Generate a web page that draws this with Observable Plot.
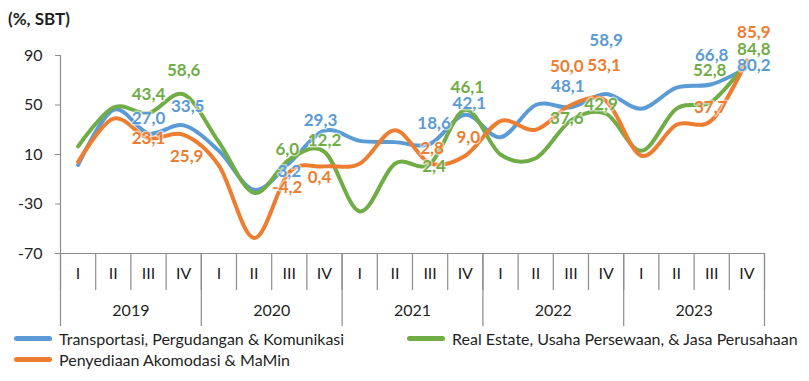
<!DOCTYPE html>
<html><head><meta charset="utf-8">
<script src="https://cdn.jsdelivr.net/npm/d3@7"></script>
<script src="https://cdn.jsdelivr.net/npm/@observablehq/plot@0.6"></script>
<style>
body{margin:0;background:#fff;font-family:Lato,"Open Sans",sans-serif;color:#1f1f1f;}
#wrap{position:relative;width:809px;height:381px;overflow:hidden;}
#title{position:absolute;left:8px;top:8px;font-size:17px;font-weight:bold;}
#chart{position:absolute;left:0;top:30px;}
.item{position:absolute;display:flex;align-items:center;font-size:16px;white-space:nowrap;}
.sw{width:38px;height:5px;border-radius:3px;margin-right:7px;}
</style></head>
<body>
<div id="wrap">
  <div id="title">(%, SBT)</div>
  <div id="chart"></div>
  <div id="legend"></div>
</div>
<script>
const quarters = ["I","II","III","IV","I","II","III","IV","I","II","III","IV","I","II","III","IV","I","II","III","IV"];
const years = ["2019","2020","2021","2022","2023"];
const yTicks = [-70, -30, 10, 50, 90];
const seriesNames = ["Transportasi, Pergudangan & Komunikasi", "Real Estate, Usaha Persewaan, & Jasa Perusahaan", "Penyediaan Akomodasi & MaMin"];
const transport  = [1.5, 46, 27.0, 33.5, 13, -18.5, 3.2, 29.3, 21, 20, 18.6, 42.1, 24, 50, 48.1, 58.9, 47, 64, 66.8, 80.2];
const realEstate = [16.5, 48, 43.4, 58.6, 20, -21, 6.0, 12.2, -36, 2.5, 2.4, 46.1, 10, 7, 37.6, 42.9, 13, 47, 52.8, 84.8];
const akomodasi  = [4, 39, 23.1, 25.9, 1, -57.5, -4.2, 0.4, 2.5, 29.5, 2.8, 9.0, 37, 30, 50.0, 53.1, 9, 34, 37.7, 85.9];
const labelIdx = [2, 3, 6, 7, 10, 11, 14, 15, 18, 19];

// styling (not data)
const colors = ["#5B9BD5", "#70AD47", "#ED7D31"];
const labelOffsets = [
  [[0,-15],[4,-19],[0,9],[-4,-10],[4,-20],[4,-11],[-3,-21],[0,-53],[0,-29],[7,-2]],
  [[0,-19],[0,-24],[-2,-10],[0,-11],[4,3],[2,-22],[-4,-2],[-5,-9],[-2,-31],[7,-12]],
  [[0,0],[3,22],[-2,15],[-5,11],[2,-15],[3,-18],[-4,-38],[-2,-36],[-1,-13],[7,-28]]
];

const allSeries = [transport, realEstate, akomodasi];
const fmt = v => v.toFixed(1).replace(".", ",");
const axisColor = "#8c8c8c";

const marks = [];
// axes
marks.push(Plot.ruleY([-70], {stroke: axisColor, strokeWidth: 1.2}));
marks.push(Plot.ruleX([0], {stroke: axisColor, strokeWidth: 1.2}));
marks.push(Plot.axisY({ticks: yTicks, tickSize: 5, tickPadding: 13, stroke: axisColor, fill: "#1f1f1f", fontSize: 16, tickFormat: d => String(d)}));
marks.push(Plot.axisX({ticks: d3.range(0, 21), tickSize: 37, tickFormat: () => "", stroke: axisColor, strokeWidth: 1.2}));
marks.push(Plot.axisX({ticks: d3.range(0, 21, 4), tickSize: 73, tickFormat: () => "", stroke: axisColor, strokeWidth: 1.2}));
marks.push(Plot.text(quarters, {x: (d, i) => i + 0.5, text: d => d, frameAnchor: "bottom", dy: 25, fontSize: 16, fill: "#1f1f1f"}));
marks.push(Plot.text(years, {x: (d, i) => i * 4 + 2, text: d => d, frameAnchor: "bottom", dy: 62, fontSize: 16, fill: "#1f1f1f"}));

// lines
allSeries.forEach((vals, s) => {
  marks.push(Plot.line(vals, {x: (d, i) => i + 0.5, y: d => d, stroke: colors[s], strokeWidth: 4, curve: "cardinal", strokeLinecap: "round"}));
});
// labels
allSeries.forEach((vals, s) => {
  labelIdx.forEach((idx, k) => {
    const [dx, dy] = labelOffsets[s][k];
    marks.push(Plot.text([vals[idx]], {x: () => idx + 0.5, y: d => d, text: d => fmt(d), dx, dy,
      fill: colors[s], fontSize: 17, fontWeight: "bold", stroke: "white", strokeWidth: 3, strokeOpacity: 0.55}));
  });
});

const chart = Plot.plot({
  width: 809, height: 300,
  marginTop: 25, marginLeft: 60, marginRight: 45, marginBottom: 77,
  x: {type: "linear", domain: [0, 20], axis: null},
  y: {domain: [-70, 90], axis: null},
  style: {fontFamily: "Lato, 'Open Sans', sans-serif", background: "white", overflow: "visible"},
  marks
});
document.getElementById("chart").appendChild(chart);

// legend
const legendPos = [[14, 329], [407, 329], [14, 350]];
const legend = document.getElementById("legend");
seriesNames.forEach((name, s) => {
  const el = document.createElement("div");
  el.className = "item";
  el.style.left = legendPos[s][0] + "px";
  el.style.top = legendPos[s][1] + "px";
  el.innerHTML = `<span class="sw" style="background:${colors[s]}"></span><span>${name}</span>`;
  legend.appendChild(el);
});
</script>
</body></html>
